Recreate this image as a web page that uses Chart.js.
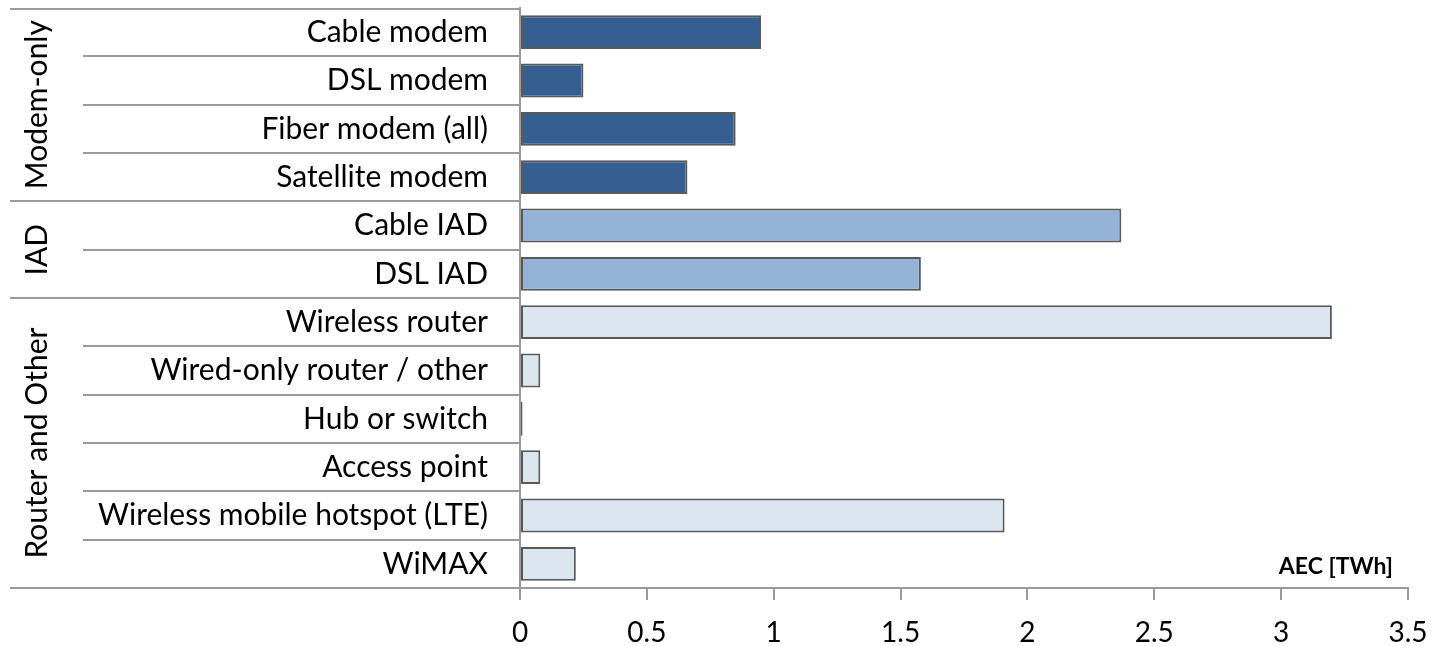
<!DOCTYPE html>
<html>
<head>
<meta charset="utf-8">
<script src="https://cdn.jsdelivr.net/npm/chart.js@4.4.1/dist/chart.umd.min.js"></script>
<style>
  html, body { margin: 0; padding: 0; background: #fff; }
  #wrap { width: 1437px; height: 646px; }
</style>
</head>
<body>
<div id="wrap"><canvas id="aecChart" width="1437" height="646"></canvas></div>
<script>
// data
const categories = [
    'Cable modem', 'DSL modem', 'Fiber modem (all)', 'Satellite modem',
    'Cable IAD', 'DSL IAD',
    'Wireless router', 'Wired-only router / other', 'Hub or switch',
    'Access point', 'Wireless mobile hotspot (LTE)', 'WiMAX'
];
const aecValues = [0.95, 0.25, 0.85, 0.66, 2.37, 1.58, 3.20, 0.08, 0.01, 0.08, 1.91, 0.22];
const groupNames = ['Modem-only', 'IAD', 'Router and Other'];
const groupSizes = [4, 2, 6];
const groupColors = ['#355F91', '#95B3D7', '#DCE6F1'];
const xTicks = [0, 0.5, 1, 1.5, 2, 2.5, 3, 3.5];
const unitLabel = 'AEC [TWh]';

const FONT = 'Lato, "Liberation Sans", sans-serif';
const LINE = '#9a9a9a';

// colour of each bar comes from its group
const barColors = [];
groupSizes.forEach((n, g) => {
    for (let i = 0; i < n; i++) barColors.push(groupColors[g]);
});

// left-hand table: separator lines and rotated group names
const tablePlugin = {
    id: 'groupTable',
    afterDraw(chart) {
        const ctx = chart.ctx;
        const area = chart.chartArea;
        const y = chart.scales.y;
        const tableLeft = 10;
        const innerLeft = 83;

        ctx.save();
        ctx.strokeStyle = LINE;
        ctx.lineWidth = 2;

        // where each group ends
        const groupEnds = [];
        let acc = 0;
        groupSizes.forEach(n => { acc += n; groupEnds.push(acc); });

        ctx.beginPath();
        ctx.moveTo(tableLeft, area.top + 1);
        ctx.lineTo(area.left, area.top + 1);
        for (let i = 1; i < categories.length; i++) {
            const yy = Math.round((y.getPixelForValue(i - 1) + y.getPixelForValue(i)) / 2);
            const startX = groupEnds.includes(i) ? tableLeft : innerLeft;
            ctx.moveTo(startX, yy);
            ctx.lineTo(area.left, yy);
        }
        ctx.moveTo(tableLeft, area.bottom);
        ctx.lineTo(area.left, area.bottom);
        ctx.stroke();

        // group names, rotated
        ctx.fillStyle = '#000';
        ctx.font = '30px ' + FONT;
        ctx.textAlign = 'center';
        ctx.textBaseline = 'middle';
        let start = 0;
        groupSizes.forEach((n, g) => {
            const top = start === 0 ? area.top : (y.getPixelForValue(start - 1) + y.getPixelForValue(start)) / 2;
            const end = start + n;
            const bottom = end >= categories.length ? area.bottom : (y.getPixelForValue(end - 1) + y.getPixelForValue(end)) / 2;
            ctx.save();
            ctx.translate(37, (top + bottom) / 2);
            ctx.rotate(-Math.PI / 2);
            ctx.fillText(groupNames[g], 0, 0);
            ctx.restore();
            start = end;
        });

        // unit label inside plot, bottom right
        ctx.font = 'bold 23px ' + FONT;
        ctx.textAlign = 'right';
        ctx.fillText(unitLabel, area.right - 15, area.bottom - 21);
        ctx.restore();
    }
};

new Chart(document.getElementById('aecChart'), {
    type: 'bar',
    data: {
        labels: categories,
        datasets: [{
            data: aecValues,
            backgroundColor: barColors,
            borderColor: '#595959',
            borderWidth: 2,
            borderSkipped: false,
            categoryPercentage: 1,
            barPercentage: 0.7
        }]
    },
    options: {
        indexAxis: 'y',
        responsive: false,
        animation: false,
        devicePixelRatio: 1,
        layout: { padding: { top: 8, right: 29, left: 0, bottom: 0 } },
        plugins: {
            legend: { display: false },
            tooltip: { enabled: false }
        },
        scales: {
            x: {
                min: 0,
                max: 3.5,
                afterBuildTicks: scale => { scale.ticks = xTicks.map(v => ({ value: v })); },
                afterFit: scale => {
                    scale.height = 58;
                    scale.paddingLeft = 0;
                    scale.paddingRight = 0;
                },
                grid: { drawOnChartArea: false, drawTicks: true, tickLength: 12, color: LINE, lineWidth: 2 },
                border: { color: LINE, width: 2 },
                ticks: {
                    color: '#000',
                    padding: 16,
                    font: { family: FONT, size: 28 },
                    callback: v => String(v)
                }
            },
            y: {
                afterFit: scale => {
                    scale.width = 520;
                    scale.paddingTop = 0;
                    scale.paddingBottom = 0;
                },
                grid: { display: false, drawTicks: false },
                border: { color: LINE, width: 2 },
                ticks: {
                    color: '#000',
                    padding: 32,
                    autoSkip: false,
                    font: { family: FONT, size: 30 }
                }
            }
        }
    },
    plugins: [tablePlugin]
});
</script>
</body>
</html>
